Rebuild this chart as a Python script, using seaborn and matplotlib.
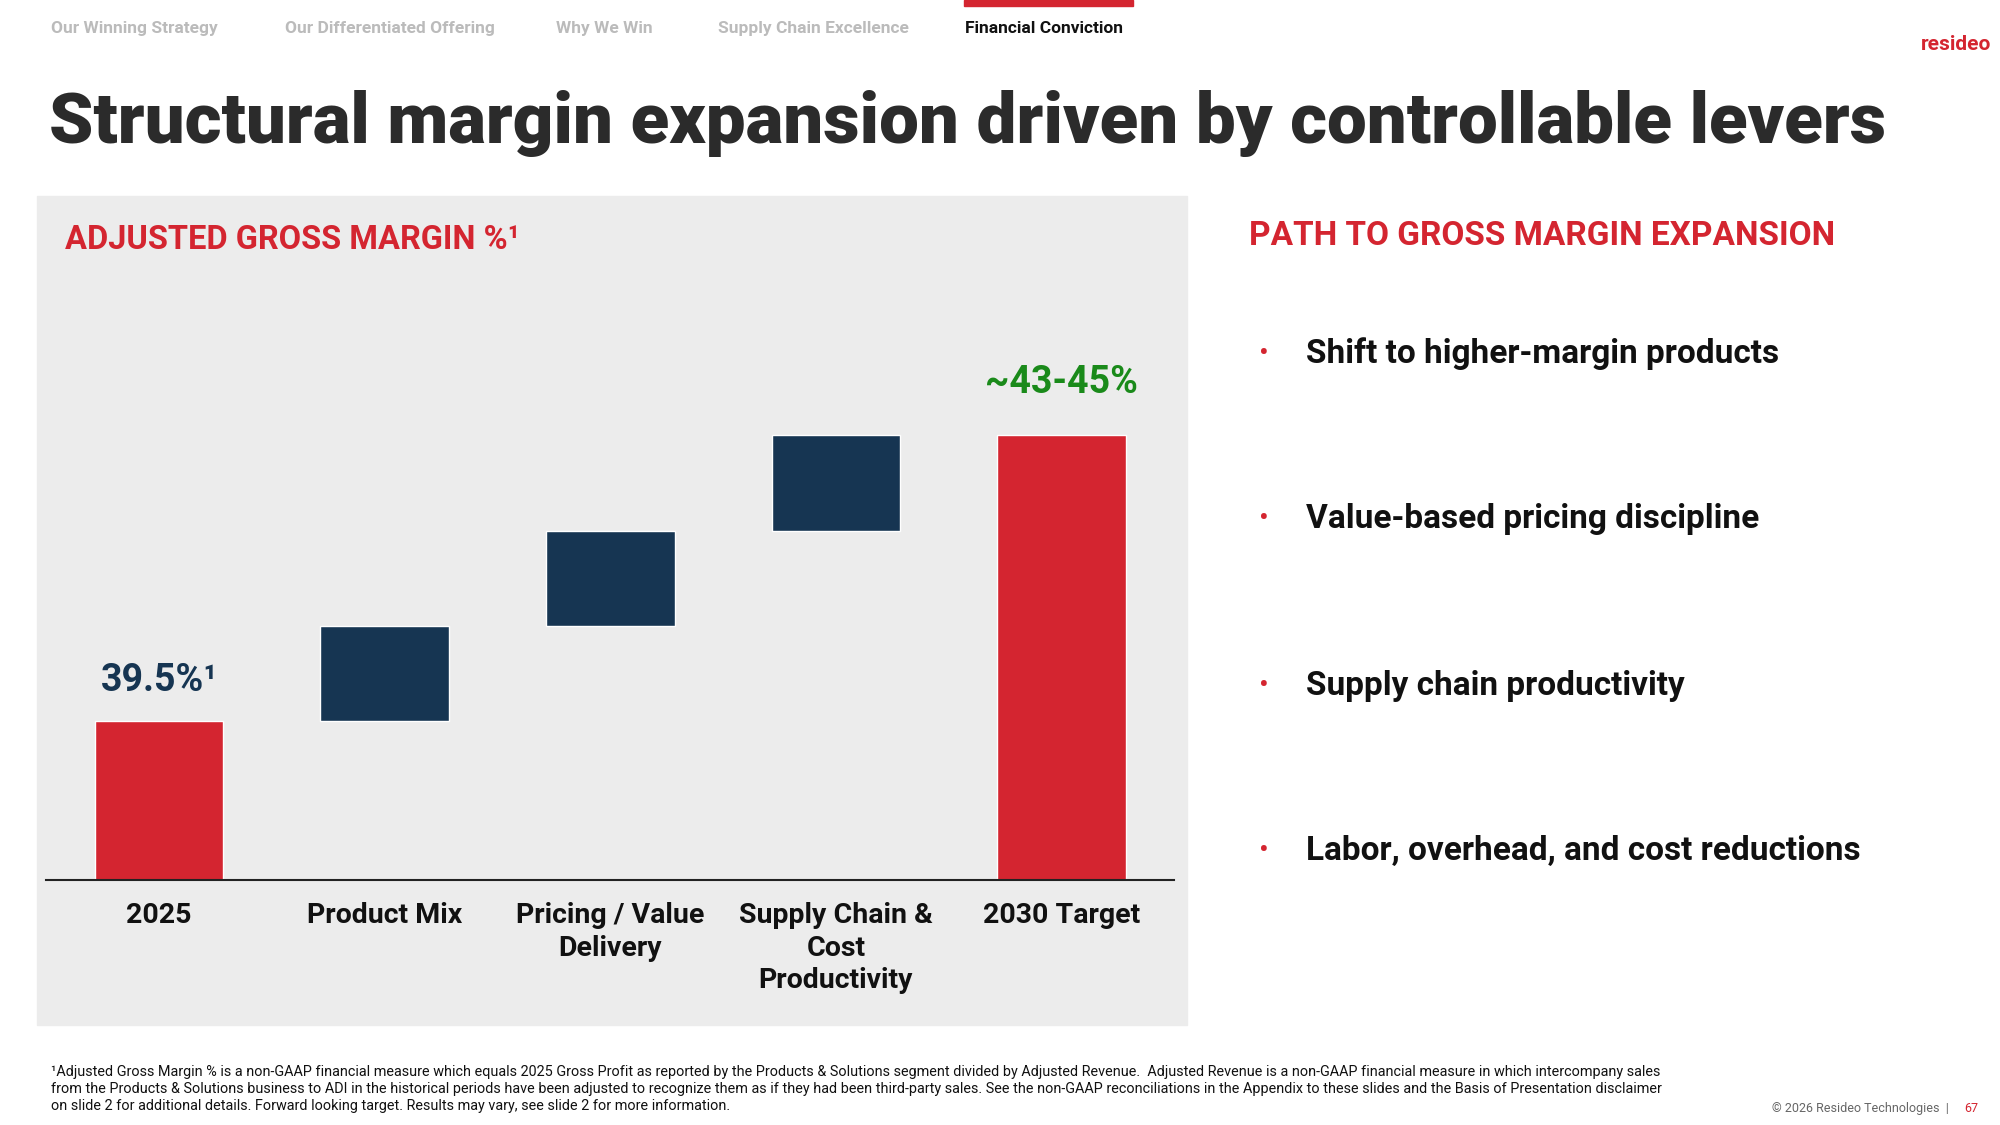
import matplotlib.pyplot as plt
import seaborn as sns

categories = ['2025', 'Product Mix', 'Pricing / Value\nDelivery',
              'Supply Chain &\nCost\nProductivity', '2030 Target']
bar_heights = [2.5, 1.5, 1.5, 1.5, 7.0]
bar_bottoms = [37.0, 39.5, 41.0, 42.5, 37.0]
bar_colors = ['#D42530', '#163552', '#163552', '#163552', '#D42530']
tabs = ['Our Winning Strategy', 'Our Differentiated Offering', 'Why We Win',
        'Supply Chain Excellence', 'Financial Conviction']
tab_x = [40, 222, 434, 560, 753]
bullets = ['Shift to higher-margin products', 'Value-based pricing discipline',
           'Supply chain productivity', 'Labor, overhead, and cost reductions']
bullet_y = [276, 405, 535, 664]

sns.set_theme(style='white')
plt.rcParams['font.family'] = ['Roboto', 'DejaVu Sans']

W, H = 1560, 878
fig = plt.figure(figsize=(20, 11.25), dpi=100)

def fx(x): return x / W
def fy(y): return 1 - y / H

# gray panel
fig.patches.append(plt.Rectangle((fx(29), fy(800)), fx(926) - fx(29), fy(153) - fy(800),
                                 transform=fig.transFigure, color='#ECECEC', zorder=-5))

ax = fig.add_axes([fx(36), fy(687), fx(916) - fx(36), fy(200) - fy(687)], zorder=2)
ax.patch.set_visible(False)
sns.barplot(x=categories, y=bar_heights, bottom=bar_bottoms, width=0.57, ax=ax, color='#163552')
for p, c in zip(ax.patches, bar_colors):
    p.set_facecolor(c)
ax.set_ylim(37, 46.82)
ax.set_xlim(-0.5, 4.5)
ax.set_yticks([])
for s in ['top', 'right', 'left']:
    ax.spines[s].set_visible(False)
ax.spines['bottom'].set_color('#222222')
ax.spines['bottom'].set_linewidth(1.5)
ax.tick_params(axis='x', length=0, pad=16)
for t in ax.get_xticklabels():
    t.set_fontsize(20.5); t.set_fontweight('bold'); t.set_color('#111111')
    t.set_va('top'); t.set_linespacing(1.25)
ax.text(0, 39.5 + 0.35, '39.5%¹', ha='center', va='bottom', fontsize=27,
        fontweight='bold', color='#163552')
ax.text(4, 44 + 0.55, '~43-45%', ha='center', va='bottom', fontsize=27,
        fontweight='bold', color='#1A8A1A')

fig.text(fx(51), fy(187), 'ADJUSTED GROSS MARGIN %¹', fontsize=23.5, fontweight='bold',
         color='#D42530', va='center')

# tabs
for t, x in zip(tabs, tab_x):
    last = t == 'Financial Conviction'
    fig.text(fx(x), fy(22), t, fontsize=12.5, fontweight='bold', va='center',
             color='#111111' if last else '#BBBBBB')
fig.patches.append(plt.Rectangle((fx(752), fy(5)), fx(884) - fx(752), fy(0) - fy(5),
                                 transform=fig.transFigure, color='#D42530'))
fig.text(fx(1553), fy(35), 'resideo', fontsize=15, fontweight='bold', color='#D42530',
         ha='right', va='center')

fig.text(fx(38), fy(96), 'Structural margin expansion driven by controllable levers',
         fontsize=51, fontweight='black', color='#2B2B2B', va='center')

fig.text(fx(974), fy(184), 'PATH TO GROSS MARGIN EXPANSION', fontsize=24,
         fontweight='bold', color='#D42530', va='center')
for b, y in zip(bullets, bullet_y):
    fig.text(fx(982), fy(y), '•', fontsize=21, color='#D42530', va='center')
    fig.text(fx(1019), fy(y), b, fontsize=24, fontweight='bold', color='#111111', va='center')

foot = ('¹Adjusted Gross Margin % is a non-GAAP financial measure which equals 2025 Gross Profit as reported by the Products & Solutions segment divided by Adjusted Revenue.  Adjusted Revenue is a non-GAAP financial measure in which intercompany sales\n'
        'from the Products & Solutions business to ADI in the historical periods have been adjusted to recognize them as if they had been third-party sales. See the non-GAAP reconciliations in the Appendix to these slides and the Basis of Presentation disclaimer\n'
        'on slide 2 for additional details. Forward looking target. Results may vary, see slide 2 for more information.')
fig.text(fx(40), fy(850), foot, fontsize=10.4, color='#111111', va='center', linespacing=1.3)
fig.text(fx(1520), fy(865), '© 2026 Resideo Technologies  |', fontsize=9, color='#666666',
         ha='right', va='center')
fig.text(fx(1532), fy(865), '67', fontsize=9, color='#D42530', va='center')

fig.savefig('out.png', dpi=100)
